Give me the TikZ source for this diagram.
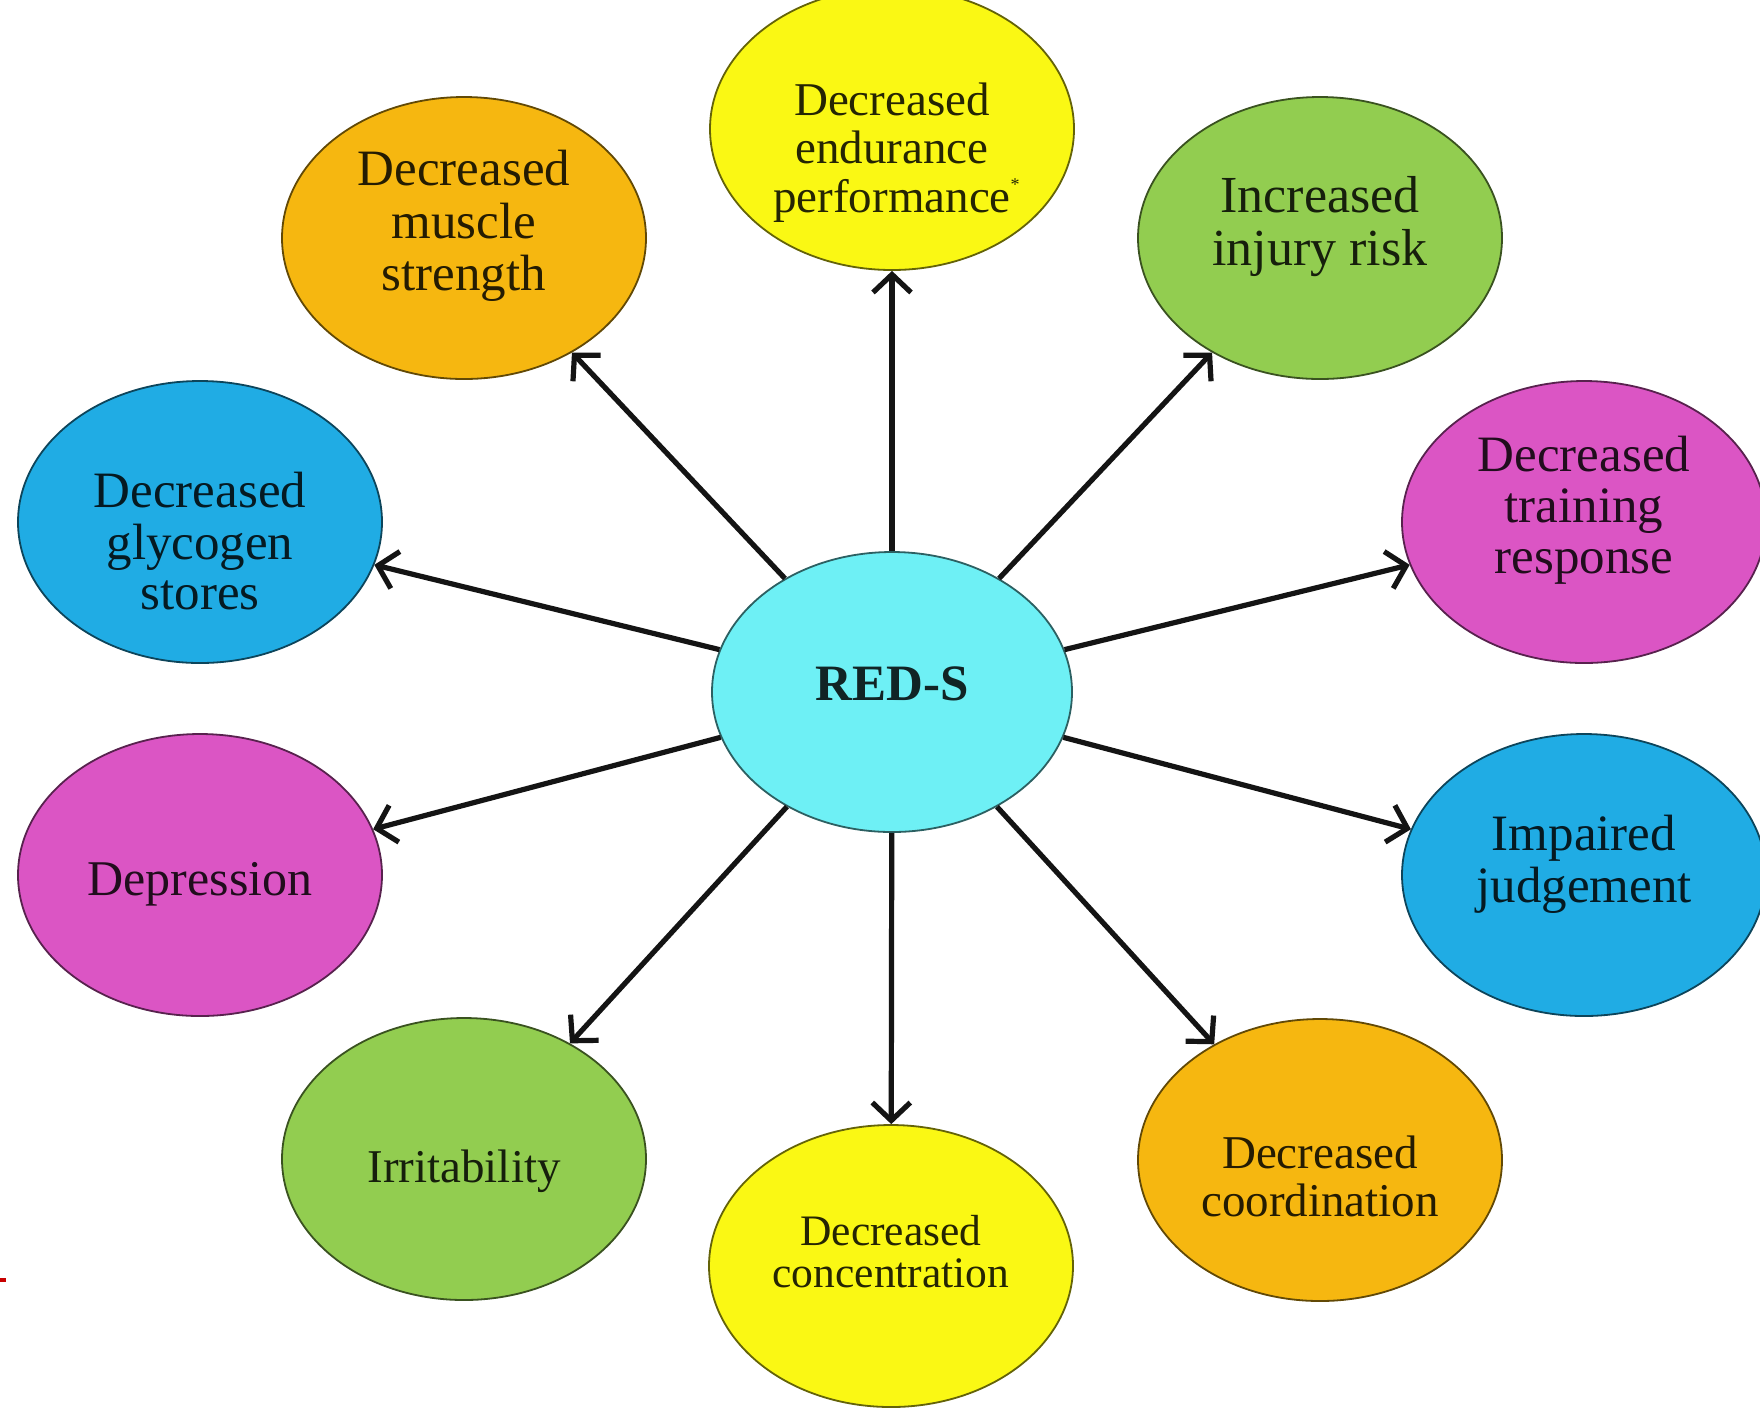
\documentclass[tikz,border=0pt]{standalone}
\usepackage{fontspec}
\setmainfont{Liberation Serif}
\usetikzlibrary{shapes.geometric,arrows.meta}
\definecolor{cyellow}{RGB}{250,248,20}
\definecolor{corange}{RGB}{246,183,16}
\definecolor{cgreen}{RGB}{146,205,80}
\definecolor{cblue}{RGB}{32,172,228}
\definecolor{cmagenta}{RGB}{219,85,196}
\definecolor{ccyan}{RGB}{110,240,245}
\definecolor{cmark}{RGB}{200,0,0}
\newcommand\fsz[2]{\fontsize{#1}{#2}\selectfont}
\begin{document}
\begin{tikzpicture}[x=0.5pt,y=-0.5pt,
  bubble/.style={ellipse, draw=#1!40!black, fill=#1, line width=0.9pt,
    minimum width=182pt, minimum height=141pt, inner sep=0pt},
  lbl/.style={align=center, inner sep=0pt, text=#1!15!black},
  link/.style={line width=2.6pt, draw=black!92,
    -{Straight Barb[length=9pt,width=19pt,line width=2.6pt]}}]
\useasboundingbox (0,0) rectangle (1760,1410);
\fill[white] (0,0) rectangle (1760,1410);

% ellipses
\node[bubble=ccyan, minimum width=180pt, minimum height=140pt] (c) at (892,692) {};
\node[bubble=cyellow] (endur) at (892,129) {};
\node[bubble=corange] (muscle) at (464,238) {};
\node[bubble=cgreen] (injury) at (1320,238) {};
\node[bubble=cblue] (glyco) at (200,522) {};
\node[bubble=cmagenta] (train) at (1584,522) {};
\node[bubble=cmagenta] (depr) at (200,875) {};
\node[bubble=cblue] (judg) at (1584,875) {};
\node[bubble=cgreen] (irrit) at (464,1159) {};
\node[bubble=corange] (coord) at (1320,1160) {};
\node[bubble=cyellow] (conc) at (891,1266) {};

% arrows
\foreach \t in {endur,muscle,injury,glyco,train,depr,judg,irrit,coord,conc}
  \draw[link] (c) -- (\t);

% labels
\node[lbl=cyellow, font=\fsz{23.5}{22}] (tendur) at (892,154)
  {\strut Decreased\\\strut endurance\\\strut performance\rlap{\fsz{9}{9}\raisebox{11pt}{*}}};
\node[lbl=corange, font=\fsz{25.5}{25}] (tmuscle) at (464,228)
  {\strut Decreased\\\strut muscle\\\strut strength};
\node[lbl=cgreen, font=\fsz{26}{25.5}] (tinjury) at (1320,228.3)
  {\strut Increased\\\strut injury risk};
\node[lbl=cblue, font=\fsz{25.5}{25}] (tglyco) at (200,548)
  {\strut Decreased\\\strut glycogen\\\strut stores};
\node[lbl=cmagenta, font=\fsz{25.5}{25.5}] (ttrain) at (1584,511.8)
  {\strut Decreased\\\strut training\\\strut response};
\node[lbl=cmagenta, font=\fsz{25}{25}] (tdepr) at (200,885)
  {\strut Depression};
\node[lbl=cblue, font=\fsz{25.5}{26}] (tjudg) at (1584,865.6)
  {\strut Impaired\\\strut judgement};
\node[lbl=cgreen, font=\fsz{23.5}{23.5}] (tirrit) at (464,1172.6)
  {\strut Irritability};
\node[lbl=corange, font=\fsz{23.5}{22.5}] (tcoord) at (1320,1183)
  {\strut Decreased\\\strut coordination};
\node[lbl=cyellow, font=\fsz{21.75}{21}] (tconc) at (891,1257.6)
  {\strut Decreased\\\strut concentration};
\node[lbl=ccyan, font=\fsz{25.5}{25.5}\bfseries] (tc) at (892,689.8)
  {\strut RED-S};

% small red mark at left edge
\fill[cmark] (0,1278) rectangle (6,1282);
\end{tikzpicture}
\end{document}
